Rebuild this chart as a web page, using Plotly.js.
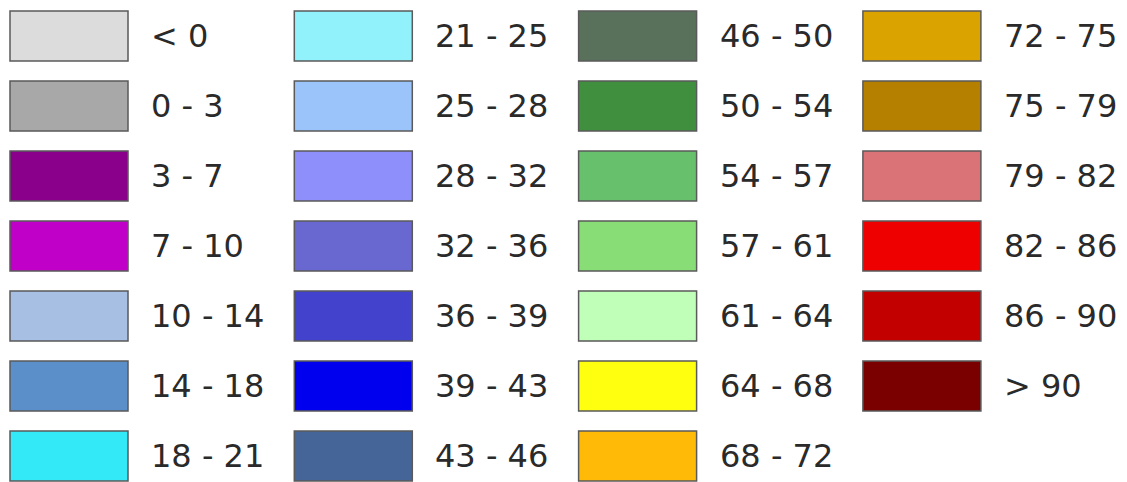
<!DOCTYPE html>
<html>
<head>
<meta charset="utf-8">
<script src="https://cdn.plot.ly/plotly-3.0.1.min.js"></script>
<style>html,body{margin:0;padding:0;background:#fff;}#chart{width:1127px;height:482px;}</style>
</head>
<body>
<div id="chart"></div>
<script>
// Legend classes (top-to-bottom, column by column)
const labels = ["< 0","0 - 3","3 - 7","7 - 10","10 - 14","14 - 18","18 - 21",
  "21 - 25","25 - 28","28 - 32","32 - 36","36 - 39","39 - 43","43 - 46",
  "46 - 50","50 - 54","54 - 57","57 - 61","61 - 64","64 - 68","68 - 72",
  "72 - 75","75 - 79","79 - 82","82 - 86","86 - 90","> 90"];
const colors = ["#dcdcdc","#a8a8a8","#8b008b","#c000c8","#a6bfe3","#5b8fca","#33e9f8",
  "#91f2fb","#9ac4fa","#8f8ffb","#6868d0","#4242cc","#0000ee","#456598",
  "#59705a","#3f8f3f","#66c06c","#88dd77","#c0ffb8","#ffff10","#ffba08",
  "#dba300","#b57f00","#da7378","#ee0000","#c20000","#7a0000"];

const ROWS = 7, COLPITCH = 284.3, ROWPITCH = 70;
const X0 = 10, Y0 = 11, SW = 118, SH = 50, TXOFF = 139;

const shapes = [], annotations = [];
labels.forEach((lab, i) => {
  const c = Math.floor(i / ROWS), r = i % ROWS;
  const x = X0 + c * COLPITCH, y = Y0 + r * ROWPITCH;
  shapes.push({type:'rect', xref:'x', yref:'y', x0:x, x1:x+SW, y0:y, y1:y+SH,
    fillcolor: colors[i], line:{color:'#5a5a5a', width:1.5}});
  annotations.push({xref:'x', yref:'y', x:x+TXOFF, y:y+SH/2, text:lab, showarrow:false,
    xanchor:'left', yanchor:'middle', font:{family:'DejaVu Sans, sans-serif', size:32, color:'#2a2a2a'}});
});

const layout = {
  width:1127, height:482, margin:{l:0,r:0,t:0,b:0},
  paper_bgcolor:'#fff', plot_bgcolor:'#fff', showlegend:false,
  xaxis:{range:[0,1127], visible:false, fixedrange:true},
  yaxis:{range:[482,0], visible:false, fixedrange:true},
  shapes, annotations
};
Plotly.newPlot('chart', [{x:[], y:[], type:'scatter', mode:'markers', hoverinfo:'skip'}], layout, {staticPlot:true, displayModeBar:false});
</script>
</body>
</html>
